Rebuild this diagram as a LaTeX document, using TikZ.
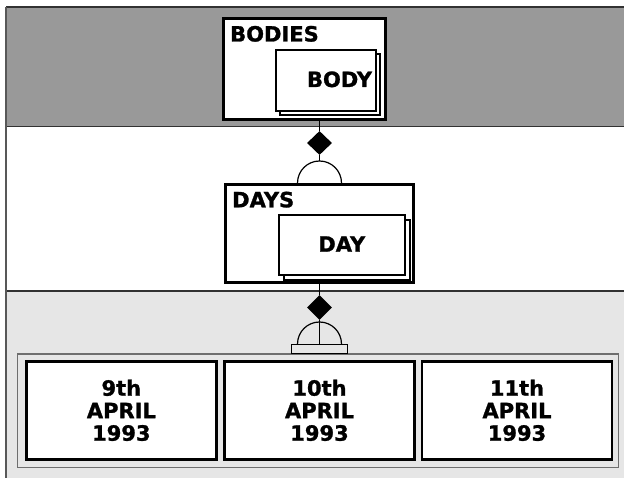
\documentclass[tikz,border=0pt]{standalone}
\usepackage{fontspec}
\setsansfont{DejaVu Sans}[BoldFeatures={FakeBold=1.2}]
\usetikzlibrary{shapes.geometric}
\definecolor{bandtop}{RGB}{153,153,153}
\definecolor{bandlow}{RGB}{230,230,230}
\definecolor{rule}{RGB}{50,50,50}
\definecolor{frameline}{RGB}{110,110,110}
\tikzset{
  lbl/.style={font=\sffamily\bfseries\fontsize{21}{22.5}\selectfont, inner sep=0},
  outerbox/.style={draw=black, line width=2.7pt, fill=white, inner sep=0},
  innerbox/.style={draw=black, line width=2pt, fill=white, inner sep=0},
  datebox/.style={outerbox, minimum width=190pt, minimum height=98pt, align=center,
    font=\sffamily\bfseries\fontsize{21}{22.5}\selectfont},
  link/.style={draw=black, line width=1.2pt},
  agg/.style={diamond, fill=black, inner sep=0, minimum width=25pt, minimum height=24pt},
}
\begin{document}
\begin{tikzpicture}[x=1pt, y=-1pt]
  \useasboundingbox (0,0) rectangle (624,478);
  % bands
  \fill[bandtop] (6,7) rectangle (624,126.5);
  \fill[white] (6,126.5) rectangle (624,291);
  \fill[bandlow] (6,291) rectangle (624,478);
  \draw[rule, line width=1.5pt] (6,7) -- (624,7);
  \draw[rule, line width=1.2pt] (6,126.5) -- (624,126.5);
  \draw[rule, line width=1.2pt] (6,291) -- (624,291);
  \draw[frameline!80!black, line width=1.5pt] (6,7) -- (6,478);

  % BODIES aggregate
  \node[outerbox, minimum width=162.3pt, minimum height=101.3pt] (bodies) at (304.5,69) {};
  \node[innerbox, minimum width=100pt, minimum height=61pt] (bodyback) at (330,84.5) {};
  \node[innerbox, minimum width=100pt, minimum height=61pt] (body) at (326,80.5) {};
  \node[lbl, anchor=base west] (bodiestxt) at (230,41.5) {BODIES};
  \node[lbl, anchor=base] (bodytxt) at (339.5,87) {BODY};

  % DAYS aggregate
  \node[outerbox, minimum width=188.3pt, minimum height=98.3pt] (days) at (319.5,233.5) {};
  \node[innerbox, minimum width=126pt, minimum height=60pt] (dayback) at (346.7,249.7) {};
  \node[innerbox, minimum width=126pt, minimum height=60pt] (day) at (341.7,244.7) {};
  \node[lbl, anchor=base west] (daystxt) at (232,207.3) {DAYS};
  \node[lbl, anchor=base] (daytxt) at (341.8,251.7) {DAY};

  % link BODIES -> DAYS
  \node[agg] (d1) at (319.5,143) {};
  \coordinate (arc1) at (319.5,161.5);
  \draw[link] (bodies.south -| d1) -- (d1.north);
  \draw[link] (d1.south) -- (arc1);
  \draw[link] (297.5,183) arc[start angle=180, end angle=0, radius=22pt];

  % container of dates
  \node[draw=frameline, line width=1.5pt, fill=bandlow, minimum width=601pt, minimum height=113.5pt, inner sep=0]
    (dates) at (318,410.75) {};
  \node[datebox] (apr9) at (121.35,410.35) {9th\\APRIL\\1993};
  \node[datebox] (apr10) at (319.5,410.35) {10th\\APRIL\\1993};
  \node[datebox] (apr11) at (517,410.35) {11th\\APRIL\\1993};

  % link DAYS -> dates
  \node[agg, minimum height=25pt] (d2) at (319.5,307.5) {};
  \node[draw=black, line width=1.2pt, fill=bandlow, minimum width=56pt, minimum height=9pt, inner sep=0]
    (plate) at (319.6,349) {};
  \draw[link] (days.south) -- (d2.north);
  \draw[link] (d2.south) -- (plate.north -| d2);
  \draw[link] (297.5,344) arc[start angle=180, end angle=0, radius=22pt];
\end{tikzpicture}
\end{document}
